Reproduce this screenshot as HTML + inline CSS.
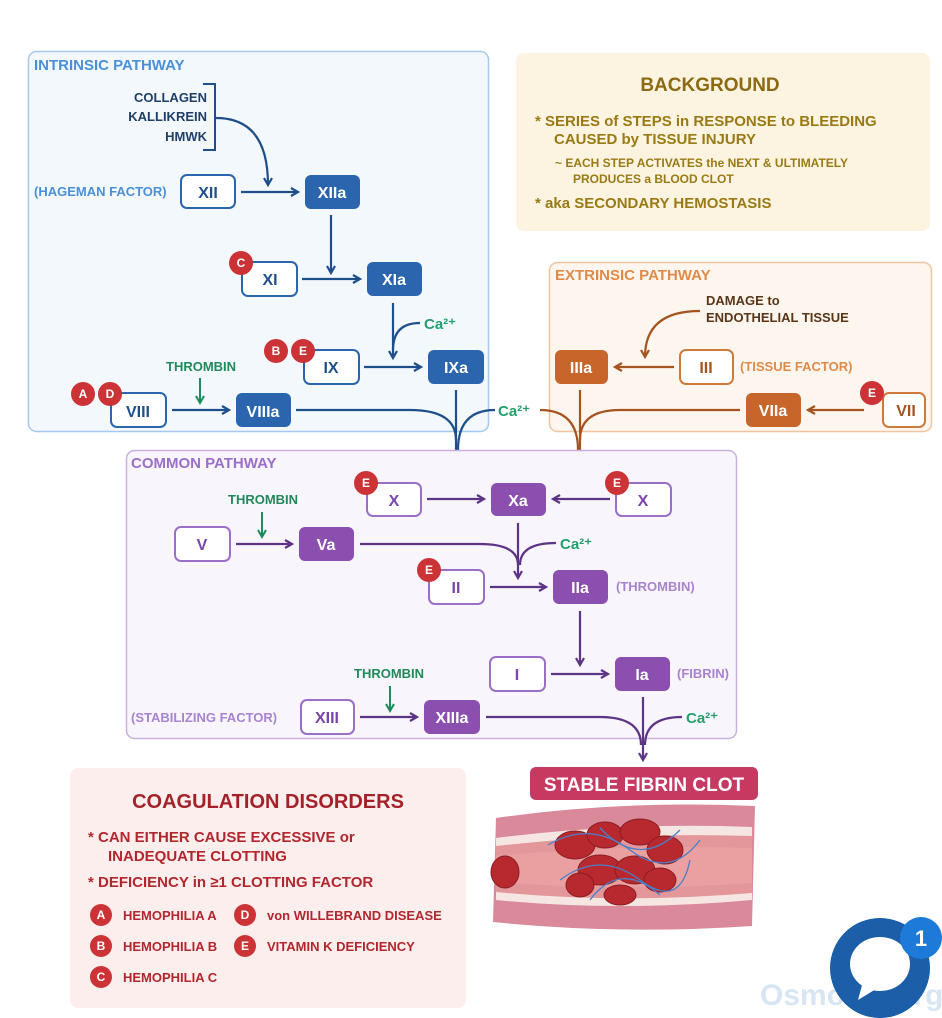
<!DOCTYPE html>
<html><head><meta charset="utf-8"><style>
html,body{margin:0;padding:0;background:#fff;}
svg{display:block;}
text{font-family:"Liberation Sans",sans-serif;font-weight:bold;}
</style></head><body>
<svg width="942" height="1018" viewBox="0 0 942 1018" xmlns="http://www.w3.org/2000/svg">
<defs>
<marker id="ab" markerWidth="10" markerHeight="10" refX="8" refY="5" orient="auto" markerUnits="userSpaceOnUse"><path d="M1,1 L8,5 L1,9" fill="none" stroke="#1f4f8a" stroke-width="2.2"/></marker>
<marker id="ap" markerWidth="10" markerHeight="10" refX="8" refY="5" orient="auto" markerUnits="userSpaceOnUse"><path d="M1,1 L8,5 L1,9" fill="none" stroke="#5e3485" stroke-width="2.2"/></marker>
<marker id="ao" markerWidth="10" markerHeight="10" refX="8" refY="5" orient="auto" markerUnits="userSpaceOnUse"><path d="M1,1 L8,5 L1,9" fill="none" stroke="#a55420" stroke-width="2.2"/></marker>
<marker id="ag" markerWidth="10" markerHeight="10" refX="8" refY="5" orient="auto" markerUnits="userSpaceOnUse"><path d="M1,1 L8,5 L1,9" fill="none" stroke="#1f8a5a" stroke-width="2"/></marker>
</defs>

<!-- Intrinsic box -->
<rect x="28.5" y="51.5" width="460" height="380" rx="8" fill="#f3f8fd" stroke="#a5c8ec" stroke-width="1.5"/>
<text x="34" y="70" font-size="15" fill="#4a90d9">INTRINSIC PATHWAY</text>
<g font-size="13" fill="#1f3f6a" text-anchor="end">
<text x="207" y="102">COLLAGEN</text><text x="207" y="121">KALLIKREIN</text><text x="207" y="141">HMWK</text>
</g>
<path d="M203,84 H215 V150 H203" fill="none" stroke="#1f4f8a" stroke-width="2"/>
<path d="M216,118 Q268,118 268,185" fill="none" stroke="#1f4f8a" stroke-width="2.2" marker-end="url(#ab)"/>
<text x="34" y="196" font-size="13" fill="#4a90d9">(HAGEMAN FACTOR)</text>

<g stroke="#1f4f8a" stroke-width="2.2" fill="none">
<path d="M241,192 H298" marker-end="url(#ab)"/>
<path d="M331,215 V273" marker-end="url(#ab)"/>
<path d="M302,279 H360" marker-end="url(#ab)"/>
<path d="M393,303 V358" marker-end="url(#ab)"/>
<path d="M364,367 H421" marker-end="url(#ab)"/>
<path d="M172,410 H229" marker-end="url(#ab)"/>
<path d="M296,410 H410 Q456,410 456,440"/>
<path d="M456,390 V490" marker-end="url(#ab)"/>
</g>
<path d="M420,323 Q393,323 393,350" fill="none" stroke="#1f4f8a" stroke-width="2.2"/>
<path d="M495,410 Q458,410 458,450" fill="none" stroke="#1f4f8a" stroke-width="2.2"/>
<text x="424" y="329" font-size="15" fill="#22a06b">Ca²⁺</text>
<text x="166" y="371" font-size="13" fill="#1f8a5a">THROMBIN</text>
<path d="M200,378 V403" stroke="#1f8a5a" stroke-width="2" fill="none" marker-end="url(#ag)"/>

<!-- intrinsic nodes -->
<g font-size="16" text-anchor="middle">
<rect x="181" y="175" width="54" height="33" rx="6" fill="#fff" stroke="#2a65ad" stroke-width="2"/><text x="208" y="198" fill="#1f4f8a">XII</text>
<rect x="305" y="175" width="55" height="34" rx="6" fill="#2a65ad"/><text x="332" y="198" fill="#fff">XIIa</text>
<rect x="242" y="262" width="55" height="34" rx="6" fill="#fff" stroke="#2a65ad" stroke-width="2"/><text x="270" y="285" fill="#1f4f8a">XI</text>
<rect x="367" y="262" width="55" height="34" rx="6" fill="#2a65ad"/><text x="394" y="285" fill="#fff">XIa</text>
<rect x="304" y="350" width="55" height="34" rx="6" fill="#fff" stroke="#2a65ad" stroke-width="2"/><text x="331" y="373" fill="#1f4f8a">IX</text>
<rect x="428" y="350" width="56" height="34" rx="6" fill="#2a65ad"/><text x="456" y="373" fill="#fff">IXa</text>
<rect x="111" y="393" width="55" height="34" rx="6" fill="#fff" stroke="#2a65ad" stroke-width="2"/><text x="138" y="417" fill="#1f4f8a">VIII</text>
<rect x="236" y="393" width="55" height="34" rx="6" fill="#2a65ad"/><text x="263" y="417" fill="#fff">VIIIa</text>
</g>

<!-- Extrinsic -->
<rect x="549.5" y="262.5" width="382" height="169" rx="8" fill="#fdf6ef" stroke="#f0c4a0" stroke-width="1.5"/>
<text x="555" y="280" font-size="15" fill="#e08a4a">EXTRINSIC PATHWAY</text>
<text x="706" y="305" font-size="13" fill="#5a3518">DAMAGE to</text>
<text x="706" y="322" font-size="13" fill="#5a3518">ENDOTHELIAL TISSUE</text>
<g stroke="#a55420" stroke-width="2.2" fill="none">
<path d="M700,311 Q645,311 645,357" marker-end="url(#ao)"/>
<path d="M674,367 H615" marker-end="url(#ao)"/>
<path d="M864,410 H808" marker-end="url(#ao)"/>
<path d="M740,410 H620 Q580,410 580,440"/>
<path d="M580,390 V495" marker-end="url(#ao)"/>
<path d="M540,410 Q578,410 578,450"/>
</g>
<text x="498" y="416" font-size="15" fill="#22a06b">Ca²⁺</text>
<text x="740" y="371" font-size="13" fill="#e08a4a">(TISSUE FACTOR)</text>
<g font-size="16" text-anchor="middle">
<rect x="555" y="350" width="53" height="34" rx="6" fill="#c8652a"/><text x="581" y="373" fill="#fff">IIIa</text>
<rect x="680" y="350" width="53" height="34" rx="6" fill="#fff" stroke="#d07a3a" stroke-width="2"/><text x="706" y="373" fill="#a55420">III</text>
<rect x="746" y="393" width="55" height="34" rx="6" fill="#c8652a"/><text x="773" y="416" fill="#fff">VIIa</text>
<rect x="883" y="393" width="42" height="34" rx="6" fill="#fff" stroke="#d07a3a" stroke-width="2"/><text x="906" y="416" fill="#a55420">VII</text>
</g>

<!-- Background -->
<rect x="516" y="53" width="414" height="178" rx="8" fill="#fcf4e1"/>
<text x="710" y="91" font-size="19" fill="#8b6a12" text-anchor="middle">BACKGROUND</text>
<g fill="#9a7a14">
<text x="535" y="126" font-size="15">* SERIES of STEPS in RESPONSE to BLEEDING</text>
<text x="554" y="144" font-size="15">CAUSED by TISSUE INJURY</text>
<text x="555" y="167" font-size="12">~  EACH STEP ACTIVATES the NEXT &amp; ULTIMATELY</text>
<text x="573" y="183" font-size="12">PRODUCES a BLOOD CLOT</text>
<text x="535" y="208" font-size="15">* aka SECONDARY HEMOSTASIS</text>
</g>

<!-- Common -->
<rect x="126.5" y="450.5" width="610" height="288" rx="8" fill="#f8f5fc" stroke="#c8b0e0" stroke-width="1.5"/>
<text x="131" y="468" font-size="15" fill="#9a6fc8">COMMON PATHWAY</text>
<g stroke="#5e3485" stroke-width="2.2" fill="none">
<path d="M427,499 H484" marker-end="url(#ap)"/>
<path d="M610,499 H553" marker-end="url(#ap)"/>
<path d="M236,544 H292" marker-end="url(#ap)"/>
<path d="M360,544 H480 Q518,544 518,565"/>
<path d="M518,523 V578" marker-end="url(#ap)"/>
<path d="M556,543 Q520,543 520,565"/>
<path d="M490,587 H546" marker-end="url(#ap)"/>
<path d="M580,611 V665" marker-end="url(#ap)"/>
<path d="M551,674 H608" marker-end="url(#ap)"/>
<path d="M643,697 V760" marker-end="url(#ap)"/>
<path d="M486,717 H600 Q641,717 641,745"/>
<path d="M682,717 Q645,717 645,745"/>
<path d="M360,717 H417" marker-end="url(#ap)"/>
</g>
<text x="560" y="549" font-size="15" fill="#22a06b">Ca²⁺</text>
<text x="686" y="723" font-size="15" fill="#22a06b">Ca²⁺</text>
<text x="228" y="504" font-size="13" fill="#1f8a5a">THROMBIN</text>
<path d="M262,512 V537" stroke="#1f8a5a" stroke-width="2" fill="none" marker-end="url(#ag)"/>
<text x="354" y="678" font-size="13" fill="#1f8a5a">THROMBIN</text>
<path d="M390,686 V711" stroke="#1f8a5a" stroke-width="2" fill="none" marker-end="url(#ag)"/>
<text x="616" y="591" font-size="13" fill="#a883d0">(THROMBIN)</text>
<text x="677" y="678" font-size="13" fill="#a883d0">(FIBRIN)</text>
<text x="131" y="722" font-size="13" fill="#a883d0">(STABILIZING FACTOR)</text>
<g font-size="16" text-anchor="middle">
<rect x="367" y="483" width="54" height="33" rx="6" fill="#fff" stroke="#9a6fc8" stroke-width="2"/><text x="394" y="506" fill="#7a45a8">X</text>
<rect x="491" y="483" width="55" height="33" rx="6" fill="#8a4faf"/><text x="518" y="506" fill="#fff">Xa</text>
<rect x="616" y="483" width="55" height="33" rx="6" fill="#fff" stroke="#9a6fc8" stroke-width="2"/><text x="643" y="506" fill="#7a45a8">X</text>
<rect x="175" y="527" width="55" height="34" rx="6" fill="#fff" stroke="#9a6fc8" stroke-width="2"/><text x="202" y="550" fill="#7a45a8">V</text>
<rect x="299" y="527" width="55" height="34" rx="6" fill="#8a4faf"/><text x="326" y="550" fill="#fff">Va</text>
<rect x="429" y="570" width="55" height="34" rx="6" fill="#fff" stroke="#9a6fc8" stroke-width="2"/><text x="456" y="593" fill="#7a45a8">II</text>
<rect x="553" y="570" width="55" height="34" rx="6" fill="#8a4faf"/><text x="580" y="593" fill="#fff">IIa</text>
<rect x="490" y="657" width="55" height="34" rx="6" fill="#fff" stroke="#9a6fc8" stroke-width="2"/><text x="517" y="680" fill="#7a45a8">I</text>
<rect x="615" y="657" width="55" height="34" rx="6" fill="#8a4faf"/><text x="642" y="680" fill="#fff">Ia</text>
<rect x="301" y="700" width="53" height="34" rx="6" fill="#fff" stroke="#9a6fc8" stroke-width="2"/><text x="327" y="723" fill="#7a45a8">XIII</text>
<rect x="424" y="700" width="56" height="34" rx="6" fill="#8a4faf"/><text x="452" y="723" fill="#fff">XIIIa</text>
</g>

<!-- badges -->
<g font-size="12" text-anchor="middle" fill="#fff">
<circle cx="241" cy="263" r="12" fill="#cc3336"/><text x="241" y="267">C</text>
<circle cx="276" cy="351" r="12" fill="#cc3336"/><text x="276" y="355">B</text>
<circle cx="303" cy="351" r="12" fill="#cc3336"/><text x="303" y="355">E</text>
<circle cx="83" cy="394" r="12" fill="#cc3336"/><text x="83" y="398">A</text>
<circle cx="110" cy="394" r="12" fill="#cc3336"/><text x="110" y="398">D</text>
<circle cx="872" cy="393" r="12" fill="#cc3336"/><text x="872" y="397">E</text>
<circle cx="366" cy="483" r="12" fill="#cc3336"/><text x="366" y="487">E</text>
<circle cx="617" cy="483" r="12" fill="#cc3336"/><text x="617" y="487">E</text>
<circle cx="429" cy="570" r="12" fill="#cc3336"/><text x="429" y="574">E</text>
</g>

<!-- Stable clot -->
<rect x="530" y="767" width="228" height="33" rx="6" fill="#c63a62"/>
<text x="644" y="791" font-size="19" fill="#fff" text-anchor="middle">STABLE FIBRIN CLOT</text>
<!-- vessel -->
<path d="M496,818 Q620,800 755,806 L752,926 Q620,935 493,922 Z" fill="#d9899a"/>
<path d="M496,838 Q620,822 752,827 L752,900 Q620,912 496,900 Z" fill="#f6e6e2"/>
<path d="M496,846 Q620,832 752,836 L752,893 Q620,904 496,892 Z" fill="#e3979b"/>
<path d="M496,856 Q620,844 752,848 L752,883 Q620,892 496,882 Z" fill="#ea9fa0"/>
<g fill="#b8282f" stroke="#8a1d22" stroke-width="1">
<ellipse cx="575" cy="845" rx="20" ry="14"/><ellipse cx="605" cy="835" rx="18" ry="13"/><ellipse cx="640" cy="832" rx="20" ry="13"/>
<ellipse cx="665" cy="850" rx="18" ry="14"/><ellipse cx="600" cy="870" rx="22" ry="15"/><ellipse cx="635" cy="870" rx="20" ry="14"/>
<ellipse cx="660" cy="880" rx="16" ry="12"/><ellipse cx="580" cy="885" rx="14" ry="12"/><ellipse cx="620" cy="895" rx="16" ry="10"/>
<ellipse cx="505" cy="872" rx="14" ry="16"/>
</g>
<g fill="none" stroke="#4a80c8" stroke-width="1.3">
<path d="M548,845 Q590,820 630,850 T700,840"/><path d="M560,880 Q600,850 640,880 T690,860"/><path d="M590,900 Q620,860 660,895"/><path d="M600,828 Q640,870 680,830"/>
</g>

<!-- Disorders -->
<rect x="70" y="768" width="396" height="240" rx="8" fill="#fdeeee"/>
<text x="268" y="808" font-size="20" fill="#a3222a" text-anchor="middle">COAGULATION DISORDERS</text>
<g fill="#b2262e">
<text x="88" y="842" font-size="15">* CAN EITHER CAUSE EXCESSIVE or</text>
<text x="108" y="861" font-size="15">INADEQUATE CLOTTING</text>
<text x="88" y="887" font-size="15">* DEFICIENCY in ≥1 CLOTTING FACTOR</text>
<g font-size="13">
<text x="123" y="920">HEMOPHILIA A</text><text x="123" y="951">HEMOPHILIA B</text><text x="123" y="982">HEMOPHILIA C</text>
<text x="267" y="920">von WILLEBRAND DISEASE</text><text x="267" y="951">VITAMIN K DEFICIENCY</text>
</g>
</g>
<g font-size="12" text-anchor="middle" fill="#fff">
<circle cx="101" cy="915" r="11" fill="#cc3336"/><text x="101" y="919">A</text>
<circle cx="101" cy="946" r="11" fill="#cc3336"/><text x="101" y="950">B</text>
<circle cx="101" cy="977" r="11" fill="#cc3336"/><text x="101" y="981">C</text>
<circle cx="245" cy="915" r="11" fill="#cc3336"/><text x="245" y="919">D</text>
<circle cx="245" cy="946" r="11" fill="#cc3336"/><text x="245" y="950">E</text>
</g>

<!-- watermark & chat -->
<text x="760" y="1005" font-size="30" fill="#d8e6f4">Osmosis.org</text>
<circle cx="880" cy="968" r="50" fill="#1c5fa8"/>
<ellipse cx="880" cy="964" rx="30" ry="27" fill="#fff"/>
<path d="M862,985 L858,1000 L876,989 Z" fill="#fff"/>
<circle cx="921" cy="938" r="21" fill="#1e7ad9"/>
<text x="921" y="946" font-size="22" fill="#fff" text-anchor="middle">1</text>
</svg>
</body></html>
